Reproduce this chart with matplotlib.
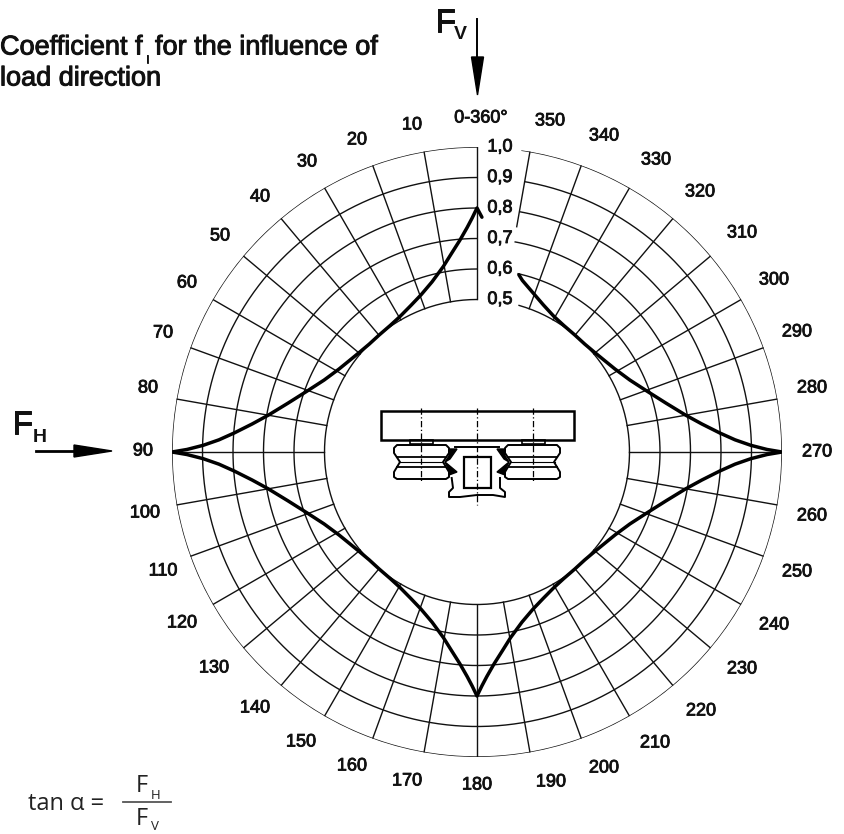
import numpy as np
import matplotlib
matplotlib.use('Agg')
import matplotlib.pyplot as plt
import matplotlib.patheffects as pe
from matplotlib.patches import Rectangle, Polygon

plt.rcParams['font.family'] = ['Liberation Sans', 'DejaVu Sans']

# values
ring_values = [0.5, 0.6, 0.7, 0.8, 0.9, 1.0]
ring_labels = ['0,5', '0,6', '0,7', '0,8', '0,9', '1,0']
ring_gap_deg = [16, 13, 10.3, 10.3, 10, 8.5]

angle_ticks = list(range(0, 360, 10))
angle_labels = ['0-360°'] + [str(a) for a in angle_ticks[1:]]
# the angle labels are hand placed on the drawing, pixel centres
label_x = [481, 412, 357, 307, 260, 220, 187, 163, 148, 143, 145, 163, 182, 214, 255, 301, 352, 407,
           477, 551, 604, 655, 701, 742, 774, 797, 812, 817, 812, 797, 774, 742, 700, 656, 604, 550]
label_y = [118, 125, 140, 162, 197, 236, 283, 333, 388, 451, 513, 571, 623, 668, 708, 742, 766, 781,
           785, 782, 768, 743, 711, 669, 625, 572, 516, 452, 388, 332, 280, 233, 192, 160, 136, 121]

curve_angle = [-1.2, 0, 1.2, 2.5, 4.6, 7.2, 10.3, 14.8, 19.6, 24.3, 29.6, 34.5, 40, 45, 49.5, 54.1, 59,
               64.8, 70.3, 75.5, 80, 82.9, 85.5, 87.3, 88.6, 89.5, 90,
               90.5, 91.4, 92.7, 94.5, 97.1, 100, 104.5, 109.7, 115.2, 121, 125.9, 130.5, 135, 140,
               145.5, 150.4, 155.7, 160.4, 165.2, 169.7, 172.8, 175.4, 177.5, 178.8, 180,
               181.2, 182.5, 184.6, 187.2, 190.3, 194.8, 199.6, 204.3, 209.6, 214.5, 220, 225, 229.5,
               234.1, 239, 244.8, 250.3, 255.5, 260, 262.9, 265.5, 267.3, 268.6, 269.5, 270,
               270.5, 271.4, 272.7, 274.5, 277.1, 280, 284.5, 289.7, 295.2, 301, 305.9, 310.5, 315,
               320, 325.5, 330.4, 335.7, 340.4, 345.2, 346.7]
curve_f = [0.77, 0.80, 0.767, 0.737, 0.697, 0.658, 0.618, 0.577, 0.547, 0.527, 0.511, 0.503, 0.50, 0.50,
           0.505, 0.514, 0.528, 0.554, 0.592, 0.64, 0.695, 0.743, 0.798, 0.847, 0.898, 0.951, 1.0,
           0.951, 0.898, 0.847, 0.798, 0.743, 0.695, 0.64, 0.592, 0.554, 0.528, 0.514, 0.505, 0.50,
           0.50, 0.503, 0.511, 0.527, 0.547, 0.577, 0.618, 0.658, 0.697, 0.737, 0.767, 0.80,
           0.767, 0.737, 0.697, 0.658, 0.618, 0.577, 0.547, 0.527, 0.511, 0.503, 0.50, 0.50, 0.505,
           0.514, 0.528, 0.554, 0.592, 0.64, 0.695, 0.743, 0.798, 0.847, 0.898, 0.951, 1.0,
           0.951, 0.898, 0.847, 0.798, 0.743, 0.695, 0.64, 0.592, 0.554, 0.528, 0.514, 0.505, 0.50,
           0.50, 0.503, 0.511, 0.529, 0.552, 0.582, 0.597]

W, H = 845, 834
CX, CY, R = 477, 452, 305
INK = '#111111'
LBL_FX = [pe.withStroke(linewidth=0.6, foreground=INK)]
TTL_FX = [pe.withStroke(linewidth=0.7, foreground=INK)]

fig = plt.figure(figsize=(W / 100, H / 100), dpi=100)
ax = fig.add_axes([(CX - R) / W, (H - CY - R) / H, 2 * R / W, 2 * R / H], projection='polar')
ax.set_theta_zero_location('N')
ax.set_theta_direction(1)
ax.set_ylim(0, 1)
ax.grid(False)
ax.spines['polar'].set_visible(False)
ax.set_yticks([])
ax.set_xticks(np.radians(angle_ticks))
ax.set_xticklabels([])
ax.tick_params(axis='x', length=0)

# rings, open on the right of 0 where the scale labels sit
for val, gap, lab in zip(ring_values, ring_gap_deg, ring_labels):
    th = np.radians(np.linspace(0, 360 - gap, 400))
    ax.plot(th, np.full_like(th, val), color=INK, lw=1.0, zorder=2)
    t = ax.annotate(lab, xy=(0, val), xytext=(16.5, 0), textcoords='offset points',
                    ha='center', va='center', fontsize=13, color=INK)
    t.set_path_effects(LBL_FX)

# spokes, the 350 one is cut short by the scale labels
for a in angle_ticks:
    start = 0.75 if a == 350 else 0.5
    ax.plot(np.radians([a, a]), [start, 1.0], color=INK, lw=1.0, zorder=2)

ax.plot(np.radians(curve_angle), curve_f, color='black', lw=2.5, zorder=3,
        solid_joinstyle='round', solid_capstyle='round')

# overlay in pixel coordinates for labels, title, load arrows and bearing sketch
ov = fig.add_axes([0, 0, 1, 1], zorder=5)
ov.set_xlim(0, W)
ov.set_ylim(H, 0)
ov.axis('off')

for lab, x, y in zip(angle_labels, label_x, label_y):
    ov.text(x, y, lab, fontsize=13, color=INK, ha='center', va='center', path_effects=LBL_FX)

ov.text(0, 54.5, 'Coefficient f', fontsize=19.5, color=INK, va='baseline', path_effects=TTL_FX)
ov.text(146, 63, 'l', fontsize=8, color=INK, va='baseline', path_effects=LBL_FX)
ov.text(155, 54.5, 'for the influence of', fontsize=19.5, color=INK, va='baseline', path_effects=TTL_FX)
ov.text(0, 85.5, 'load direction', fontsize=19.5, color=INK, va='baseline', path_effects=TTL_FX)

# F_V arrow
ov.text(435, 32, 'F', fontsize=24, color=INK, va='baseline', path_effects=TTL_FX)
ov.text(454, 39, 'V', fontsize=14, fontweight='bold', color=INK, va='baseline')
ov.plot([477.5, 477.5], [19, 60], color='black', lw=1.4)
ov.add_patch(Polygon([(471.5, 57), (483.5, 57), (477.5, 95)], color='black'))

# F_H arrow
ov.text(12, 434, 'F', fontsize=24, color=INK, va='baseline', path_effects=TTL_FX)
ov.text(33, 442, 'H', fontsize=14, fontweight='bold', color=INK, va='baseline')
ov.plot([36, 78], [451, 451], color='black', lw=2)
ov.add_patch(Polygon([(74, 445), (74, 457), (112, 451)], color='black'))

# tan formula
GREY = '#222222'
ov.text(28, 810, 'tan α =', fontsize=17, family=['Open Sans', 'DejaVu Sans'], color=GREY, va='baseline')
ov.text(136, 792, 'F', fontsize=17, family=['Open Sans'], color=GREY, va='baseline')
ov.text(151, 799, 'H', fontsize=9.5, family=['Open Sans'], color=GREY, va='baseline')
ov.plot([123, 171], [802, 802], color='#555555', lw=1.3)
ov.text(136, 825, 'F', fontsize=17, family=['Open Sans'], color=GREY, va='baseline')
ov.text(151, 830, 'V', fontsize=9.5, family=['Open Sans'], color=GREY, va='baseline')

# bearing sketch
ov.add_patch(Rectangle((381, 411), 193, 29, fill=False, ec='black', lw=1.8))
for x in [421, 533]:
    ov.plot([x, x], [408, 482], color='black', lw=0.9, dashes=(5, 2, 1, 2))
ov.plot([477, 477], [408, 505], color='black', lw=0.9, dashes=(5, 2, 1, 2))
for x in [410, 522]:
    ov.add_patch(Rectangle((x, 440), 23, 4, fill=False, ec='black', lw=1.2))


def wheel(x0, flip):
    # x0 is the wheel axis, mirrored for the right hand roller
    s = -1 if flip else 1
    pts = [(-24, 445), (25, 445), (28, 448), (28, 453), (22, 462), (28, 472), (28, 477), (25, 479),
           (-24, 479), (-27, 477), (-27, 472), (-21, 462), (-27, 453), (-27, 448)]
    ov.add_patch(Polygon([(x0 + s * p[0], p[1]) for p in pts], fill=False, ec='black', lw=1.4,
                         joinstyle='round'))
    ov.plot([x0 - 24, x0 + 24], [457, 457], color='black', lw=1.3)
    ov.plot([x0 - 22, x0 + 22], [462, 462], color='black', lw=0.8)
    ov.plot([x0 - 24, x0 + 24], [467, 467], color='black', lw=1.3)


wheel(421, False)
wheel(533, True)

for sgn in [1, -1]:
    mx = lambda x: 477 + sgn * (x - 477)
    ov.add_patch(Polygon([(mx(449), 449), (mx(457), 449), (mx(450), 459), (mx(445), 462), (mx(449), 456)],
                         color='black'))
    ov.add_patch(Polygon([(mx(445), 462), (mx(457), 472), (mx(449), 475), (mx(449), 470)], color='black'))

ov.plot([455, 499], [447, 447], color='black', lw=1.4)
ov.plot([451.7, 453, 449, 449, 460, 477, 493, 505, 505, 500, 500],
        [478, 488, 492, 497, 497, 495, 495, 497, 492, 488, 478], color='black', lw=1.4)
ov.add_patch(Rectangle((464, 457), 27, 31, fill=False, ec='black', lw=1.6))

plt.savefig('out.png', dpi=100)
